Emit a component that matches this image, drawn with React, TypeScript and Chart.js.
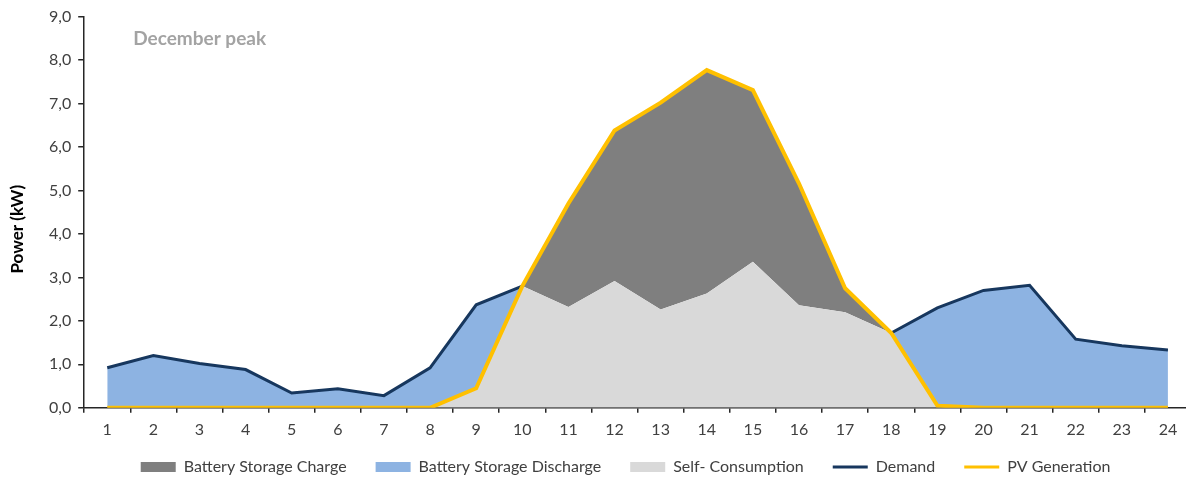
import { useEffect, useRef } from "react";
import { Chart, registerables } from "chart.js";

Chart.register(...registerables);

const hours = ["1","2","3","4","5","6","7","8","9","10","11","12","13","14","15","16","17","18","19","20","21","22","23","24"];

const selfConsumption = [0, 0, 0, 0, 0, 0, 0, 0, 0.45, 2.8, 2.32, 2.92, 2.26, 2.63, 3.36, 2.36, 2.2, 1.72, 0.05, 0, 0, 0, 0, 0];
const batteryCharge = [0, 0, 0, 0, 0, 0, 0, 0, 0, 0, 2.38, 3.46, 4.76, 5.14, 3.95, 2.8, 0.55, 0, 0, 0, 0, 0, 0, 0];
const batteryDischarge = [0.92, 1.2, 1.02, 0.88, 0.34, 0.44, 0.28, 0.92, 1.92, 0, 0, 0, 0, 0, 0, 0, 0, 0, 2.25, 2.7, 2.82, 1.58, 1.43, 1.33];
const demand: (number | null)[] = [0.92, 1.2, 1.02, 0.88, 0.34, 0.44, 0.28, 0.92, 2.37, 2.8, null, null, null, null, null, null, null, 1.72, 2.3, 2.7, 2.82, 1.58, 1.43, 1.33];
const pvGeneration = [0, 0, 0, 0, 0, 0, 0, 0, 0.45, 2.8, 4.7, 6.38, 7.02, 7.77, 7.31, 5.16, 2.75, 1.72, 0.05, 0, 0, 0, 0, 0];

const yTicks = [0, 1, 2, 3, 4, 5, 6, 7, 8, 9];

const legendOrder = ["Battery Storage Charge", "Battery Storage Discharge", "Self- Consumption", "Demand", "PV Generation"];

const chartTitle = "December peak";
const yTitle = "Power (kW)";

const FONT = "Lato";

export default function App() {
  const ref = useRef<HTMLCanvasElement | null>(null);

  useEffect(() => {
    document.body.style.margin = "0";
    document.body.style.overflow = "hidden";
    const canvas = ref.current;
    if (!canvas) return;

    const textPlugin = {
      id: "extraText",
      afterDraw(chart: any) {
        const ctx = chart.ctx;
        const area = chart.chartArea;
        ctx.save();
        ctx.font = `bold 19px ${FONT}`;
        ctx.fillStyle = "#a3a3a3";
        ctx.textBaseline = "middle";
        ctx.textAlign = "left";
        ctx.fillText(chartTitle, area.left + 49, area.top + 22);
        ctx.translate(18, (area.top + area.bottom) / 2 + 17);
        ctx.rotate(-Math.PI / 2);
        ctx.font = `bold 17px ${FONT}`;
        ctx.fillStyle = "#000000";
        ctx.textAlign = "center";
        ctx.fillText(yTitle, 0, 0);
        ctx.restore();
      },
    };

    const chart = new Chart(canvas, {
      type: "line",
      data: {
        labels: hours,
        datasets: [
          {
            label: "Self- Consumption",
            data: selfConsumption,
            backgroundColor: "#d9d9d9",
            borderWidth: 0,
            pointRadius: 0,
            fill: "origin",
            stack: "areas",
            order: 4,
            tension: 0,
          },
          {
            label: "Battery Storage Charge",
            data: batteryCharge,
            backgroundColor: "#7f7f7f",
            borderWidth: 0,
            pointRadius: 0,
            fill: "-1",
            stack: "areas",
            order: 5,
            tension: 0,
          },
          {
            label: "Battery Storage Discharge",
            data: batteryDischarge,
            backgroundColor: "#8db3e2",
            borderWidth: 0,
            pointRadius: 0,
            fill: "-1",
            stack: "areas",
            order: 6,
            tension: 0,
          },
          {
            label: "Demand",
            data: demand,
            borderColor: "#17375e",
            backgroundColor: "#17375e",
            borderWidth: 3,
            pointRadius: 0,
            fill: false,
            stack: "demand",
            order: 1,
            spanGaps: false,
            tension: 0,
          },
          {
            label: "PV Generation",
            data: pvGeneration,
            borderColor: "#ffc000",
            backgroundColor: "#ffc000",
            borderWidth: 4,
            pointRadius: 0,
            fill: false,
            stack: "pv",
            order: 0,
            tension: 0,
          },
        ],
      },
      options: {
        responsive: false,
        animation: false,
        layout: { padding: { left: 42, right: 0, top: 12, bottom: 0 } },
        plugins: {
          tooltip: { enabled: false },
          legend: {
            position: "bottom",
            fullSize: false,
            labels: {
              font: { family: FONT, size: 16, lineHeight: 1 },
              color: "#404040",
              usePointStyle: true,
              pointStyleWidth: 35,
              boxHeight: 10,
              padding: 13,
              sort: (a: any, b: any) =>
                legendOrder.indexOf(a.text.trim()) - legendOrder.indexOf(b.text.trim()),
              generateLabels: (chart: any) => {
                const items = Chart.defaults.plugins.legend.labels.generateLabels(chart);
                return items.map((it: any) => {
                  const ds = chart.data.datasets[it.datasetIndex];
                  const isLast = it.text === "PV Generation";
                  const text = it.text + (isLast ? "\u2002\u2002\u2002" : "\u2002\u2002");
                  if (it.text === "Demand" || it.text === "PV Generation") {
                    return { ...it, text, pointStyle: "line", strokeStyle: ds.borderColor, fillStyle: ds.borderColor, lineWidth: 3 };
                  }
                  return { ...it, text, pointStyle: "rect", fillStyle: ds.backgroundColor, strokeStyle: ds.backgroundColor, lineWidth: 0 };
                });
              },
            },
          },
        },
        scales: {
          x: {
            offset: true,
            grid: {
              offset: true,
              drawOnChartArea: false,
              drawTicks: true,
              tickLength: 5,
              color: "#262626",
              lineWidth: 1.5,
            },
            border: { color: "#262626", width: 1.5 },
            ticks: {
              color: "#404040",
              font: { family: FONT, size: 16 },
              padding: 7,
              maxRotation: 0,
              autoSkip: false,
            },
          },
          y: {
            stacked: true,
            min: 0,
            max: 9,
            afterBuildTicks: (axis: any) => {
              axis.ticks = yTicks.map((v) => ({ value: v }));
            },
            grid: {
              drawOnChartArea: false,
              drawTicks: true,
              tickLength: 6,
              color: "#262626",
              lineWidth: 1.5,
            },
            border: { color: "#262626", width: 1.5 },
            ticks: {
              color: "#404040",
              font: { family: FONT, size: 16 },
              padding: 7,
              callback: (v: any) => Number(v).toFixed(1).replace(".", ","),
            },
          },
        },
      },
      plugins: [textPlugin],
    });

    return () => chart.destroy();
  }, []);

  return (
    <div style={{ width: 1186, height: 477, overflow: "hidden", background: "#ffffff" }}>
      <canvas ref={ref} width={1191} height={485} style={{ display: "block" }} />
    </div>
  );
}
